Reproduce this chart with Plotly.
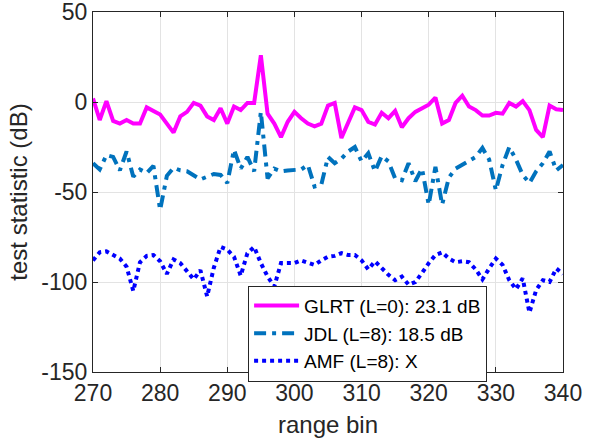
import plotly.graph_objects as go

range_bins = list(range(270, 341))

glrt_db = [2, -10, 0.5, -10.5, -12, -10, -12, -12, -3, -5,
           -7, -12, -17, -8, -5.5, -0.5, -2, -8, -10, -3.5,
           -12, -2.5, -4.5, -0.5, -0.5, 26, -6.5, -12, -19.5, -11,
           -5.5, -9, -12, -13.5, -12, -2, -0.5, -20, -11, -3,
           -4.5, -11, -12.5, -6, -9, -5, -14, -9, -5.5, -3.5,
           -1.5, 2.5, -12, -10, -0.5, 3.5, -2.5, -4.5, -7.5, -7.5,
           -6, -6.5, -0.5, -2.5, 0.5, -4.5, -15.5, -19.5, -2, -4,
           -4.5]

jdl_db = [-34, -37.5, -29.5, -30.5, -38, -27.5, -41.5, -37.5, -39.5, -35.5,
          -60, -41, -36.5, -38, -38.5, -41, -43, -41.5, -40, -40.5,
          -45, -26.5, -37, -30.5, -38.5, -5.5, -42.5, -37, -38.5, -38,
          -38, -37.5, -35, -47, -46, -30.5, -34, -31.5, -27.5, -25,
          -33, -28.5, -38.5, -30, -33, -42.5, -43.5, -34, -44, -37,
          -57, -36, -57, -42, -37, -35, -33, -30.5, -25.5, -32,
          -49, -35, -25, -32, -40.5, -45, -38.5, -34, -27.5, -38,
          -35]

amf_db = [-88, -83.5, -83, -85, -87, -91.5, -105, -89, -85.5, -85,
          -88.5, -95.5, -87.5, -89.5, -94, -98.5, -93.5, -108, -92, -80.5,
          -82, -86, -96.5, -84, -80.5, -89.5, -97, -102.5, -89.5, -89.5,
          -89.5, -88, -89.5, -90.5, -88, -86, -85.5, -84, -85, -85,
          -88, -93, -88.5, -92.5, -96, -99, -97, -101.5, -100, -95,
          -89.5, -85, -83.5, -87, -89, -88.5, -89, -93, -98.5, -92.5,
          -87, -90.5, -99, -104, -98, -117, -104.5, -99, -100, -92.5,
          -95.5]

series_names = ["GLRT (L=0): 23.1 dB", "JDL (L=8): 18.5 dB", "AMF (L=8): X"]

x_ticks = [270, 280, 290, 300, 310, 320, 330, 340]
y_ticks = [-150, -100, -50, 0, 50]
y_tick_text = ["-150", "-100", "-50", "0", "50"]

font_family = "Liberation Sans, Arial, Helvetica, sans-serif"
axis_color = "#262626"
grid_color = "#e3e3e3"

fig = go.Figure()
fig.add_trace(go.Scatter(x=range_bins, y=glrt_db, mode="lines", name=series_names[0],
                         line=dict(color="#FF00FF", width=4)))
fig.add_trace(go.Scatter(x=range_bins, y=jdl_db, mode="lines", name=series_names[1],
                         line=dict(color="#0072BD", width=4, dash="12px,6px,4px,6px")))
fig.add_trace(go.Scatter(x=range_bins, y=amf_db, mode="lines", name=series_names[2],
                         line=dict(color="#0000FF", width=4, dash="4px,4px")))

axis_common = dict(
    showline=True, linecolor=axis_color, linewidth=1, mirror="ticks",
    ticks="inside", ticklen=5, tickcolor=axis_color,
    showgrid=True, gridcolor=grid_color, gridwidth=1, zeroline=False,
    automargin=False, ticklabeloverflow="allow",
    tickfont=dict(family=font_family, size=23, color=axis_color),
)

fig.update_layout(
    width=601, height=441,
    margin=dict(l=93, r=38, t=12, b=69, autoexpand=False),
    paper_bgcolor="white", plot_bgcolor="white",
    font=dict(family=font_family, size=23, color=axis_color),
    xaxis=dict(range=[270, 340], tickvals=x_ticks,
               title=dict(text="range bin", font=dict(size=24), standoff=11),
               **axis_common),
    yaxis=dict(range=[-150, 50], tickvals=y_ticks, ticktext=y_tick_text,
               title=dict(text="test statistic (dB)", font=dict(size=24), standoff=6),
               **axis_common),
    legend=dict(x=0.33, y=0.24, xanchor="left", yanchor="top",
                bgcolor="white", bordercolor=axis_color, borderwidth=1,
                font=dict(family=font_family, size=19, color="black"),
                itemwidth=45, tracegroupgap=0),
    showlegend=True,
)

# remove the default 8px page margin so the figure sits at the window's top-left corner
fig.write_html("out.html", config={"displayModeBar": False},
               post_script="document.body.style.margin='0px';")
